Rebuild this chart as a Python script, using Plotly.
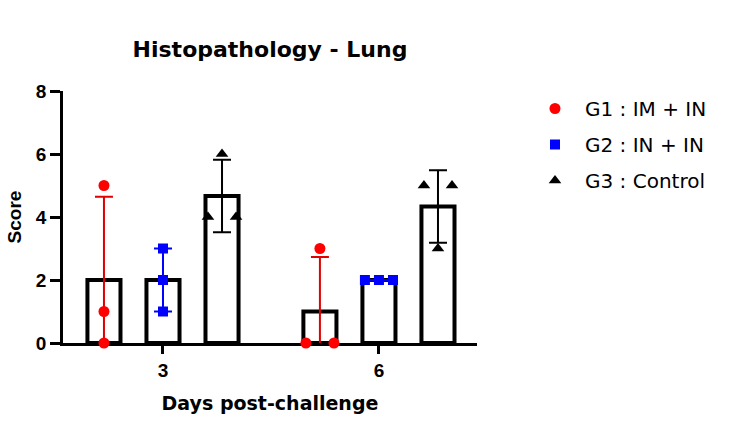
import numpy as np
import plotly.graph_objects as go

# ---- data ----
days = ["3", "6"]
group_names = ["G1 : IM + IN", "G2 : IN + IN", "G3 : Control"]
g1_scores = [[5, 1, 0], [0, 3, 0]]   # day 3, day 6
g2_scores = [[3, 2, 1], [2, 2, 2]]
g3_scores = [[6, 4, 4], [5, 3, 5]]
y_ticks = [0, 2, 4, 6, 8]

colors = ["#ff0000", "#0000ff", "#000000"]
err_colors = ["#e00000", "#0000ff", "#000000"]
symbols = ["circle", "square", "triangle-up"]
sizes = [11, 10, 11]

all_groups = [g1_scores, g2_scores, g3_scores]

bargap = 0.18
slot = (1 - bargap) / 3
jit = 0.065

fig = go.Figure()
xcat = np.arange(len(days))

# bars with SD error bars
for gi, scores in enumerate(all_groups):
    means = [float(np.mean(s)) for s in scores]
    sds = [float(np.std(s, ddof=1)) for s in scores]
    fig.add_trace(go.Bar(
        x=xcat, y=means, showlegend=False,
        marker=dict(color="white", line=dict(color="black", width=4)),
        error_y=dict(type="data", array=sds, visible=True, color=err_colors[gi],
                     thickness=2, width=9),
        hoverinfo="skip",
    ))

# individual points
for gi, scores in enumerate(all_groups):
    xs, ys = [], []
    for ci, s in enumerate(scores):
        center = ci + (gi - 1) * slot
        seen = {}
        vals = list(s)
        for v in vals:
            k = vals.count(v)
            idx = seen.get(v, 0)
            seen[v] = idx + 1
            off = 0.0 if k == 1 else (-1 + 2 * idx / (k - 1)) * jit
            xs.append(center + off)
            ys.append(v)
    fig.add_trace(go.Scatter(
        x=xs, y=ys, mode="markers", name=group_names[gi], legendgroup=str(gi),
        marker=dict(symbol=symbols[gi], size=sizes[gi], color=colors[gi]),
        cliponaxis=False,
    ))

fig.update_layout(
    width=738, height=435,
    margin=dict(l=63, r=261, t=91, b=92),
    plot_bgcolor="white", paper_bgcolor="white",
    barmode="group", bargap=bargap, bargroupgap=0.44,
    title=dict(text="Histopathology - Lung", x=0.5, xref="paper", xanchor="center",
               y=1 - 49 / 435, yref="container", yanchor="middle",
               font=dict(family="DejaVu Sans", size=22, color="black", weight="bold")),
    legend=dict(xref="container", yref="container", x=525 / 738, y=1 - 89 / 435,
                xanchor="left", yanchor="top", tracegroupgap=7, itemwidth=50,
                font=dict(family="DejaVu Sans", size=20, color="black")),
    xaxis=dict(
        range=[-0.463, 1.454], tickmode="array", tickvals=list(xcat), ticktext=days,
        showline=True, linecolor="black", linewidth=2.5, ticks="outside",
        ticklen=8, tickwidth=2.5, tickcolor="black", showgrid=False, zeroline=False,
        layer="below traces",
        tickfont=dict(family="Liberation Sans", size=19, color="black", weight="bold"),
        title=dict(text="Days post-challenge", standoff=18,
                   font=dict(family="DejaVu Sans", size=19, color="black", weight="bold")),
    ),
    yaxis=dict(
        range=[0, 8], tickmode="array", tickvals=y_ticks,
        showline=True, linecolor="black", linewidth=2.5, ticks="outside",
        ticklen=10, tickwidth=2.5, tickcolor="black", showgrid=False, zeroline=False,
        layer="below traces",
        tickfont=dict(family="Liberation Sans", size=19, color="black", weight="bold"),
        title=dict(text="Score", standoff=10,
                   font=dict(family="Liberation Sans", size=19, color="black", weight="bold")),
    ),
)

fig.write_html("out.html")
